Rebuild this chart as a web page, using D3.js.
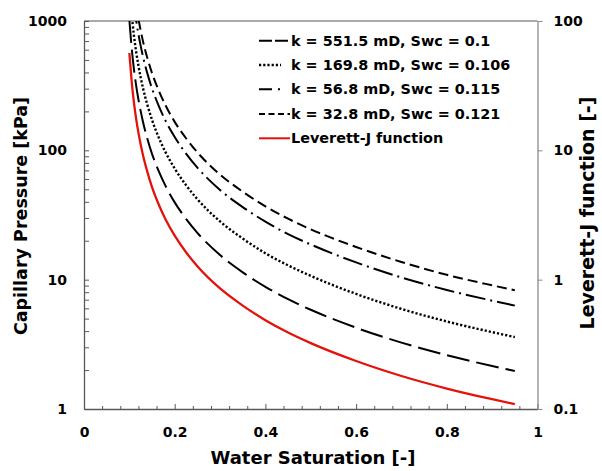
<!DOCTYPE html>
<html>
<head>
<meta charset="utf-8">
<script src="https://cdn.jsdelivr.net/npm/d3@7"></script>
<style>
    body { margin: 0; background: #fff; }
    svg { display: block; }
    text { font-family: "DejaVu Sans", sans-serif; fill: #000; }
</style>
</head>
<body>
<script>
// water saturation points
var swVals = [0.1, 0.105, 0.11, 0.115, 0.12, 0.125, 0.13, 0.14, 0.15, 0.165, 0.18, 0.2,
              0.225, 0.25, 0.3, 0.35, 0.4, 0.45, 0.5, 0.6, 0.7, 0.8, 0.9, 0.95];

// capillary pressure [kPa], null = curve not started yet
var pc551 = [1024, 624, 427, 317, 248, 201, 166.5, 122, 94, 68.8, 52.9, 39.6,
             29.5, 23.0, 15.5, 11.4, 8.8, 7.06, 5.85, 4.25, 3.26, 2.61, 2.15, 1.97];
var pc169 = [null, 1139, 779, 578, 452, 366, 304, 223, 172, 125, 96.4, 72.3,
             53.8, 41.9, 28.2, 20.8, 16.0, 12.9, 10.7, 7.76, 5.94, 4.75, 3.93, 3.6];
var pc56 = [null, null, 1364, 1012, 792, 642, 532, 390, 301, 220, 169, 127,
            94.2, 73.4, 49.4, 36.4, 28.1, 22.5, 18.7, 13.6, 10.4, 8.32, 6.88, 6.3];
var pc32 = [null, null, null, 1330, 1041, 844, 699, 513, 395, 289, 222, 166,
            124, 96.5, 65, 47.9, 36.9, 29.6, 24.5, 17.9, 13.7, 10.9, 9.04, 8.28];

// Leverett-J function [-] (right axis)
var jVals = [56.6, 34.5, 23.6, 17.5, 13.7, 11.1, 9.2, 6.75, 5.2, 3.8, 2.92, 2.19,
             1.63, 1.27, 0.855, 0.63, 0.486, 0.39, 0.323, 0.235, 0.18, 0.144, 0.119, 0.109];

var seriesNames = ["k = 551.5 mD, Swc = 0.1", "k = 169.8 mD, Swc = 0.106",
                   "k = 56.8 mD, Swc = 0.115", "k = 32.8 mD, Swc = 0.121", "Leverett-J function"];

var xTicks = [0, 0.2, 0.4, 0.6, 0.8, 1];
var yTicks = [1, 10, 100, 1000];
var yRTicks = [0.1, 1, 10, 100];

var w = 602, h = 471;
var pLeft = 84, pRight = 537.5, pTop = 21, pBottom = 409;

var svg = d3.select("body")
            .append("svg")
            .attr("width", w)
            .attr("height", h);

var xScale = d3.scaleLinear()
                .domain([0, 1])
                .range([pLeft, pRight]);

var yScale = d3.scaleLog()
                .domain([1, 1000])
                .range([pBottom, pTop]);

var yRScale = d3.scaleLog()
                .domain([0.1, 100])
                .range([pBottom, pTop]);

svg.append("clipPath")
    .attr("id", "plot")
    .append("rect")
    .attr("x", pLeft)
    .attr("y", pTop)
    .attr("width", pRight - pLeft)
    .attr("height", pBottom - pTop);

// frame top
svg.append("line")
    .attr("x1", pLeft).attr("x2", pRight)
    .attr("y1", pTop).attr("y2", pTop)
    .attr("stroke", "#8c8c8c")
    .attr("stroke-width", 1.3);

// minor x ticks every 0.04
var xMinor = d3.range(0, 26).map(i => i * 0.04).filter(v => Math.abs(v / 0.2 - Math.round(v / 0.2)) > 1e-6);
svg.append("g")
    .attr("transform", "translate(0," + pBottom + ")")
    .call(d3.axisBottom(xScale).tickValues(xMinor).tickSize(-3).tickFormat(""))
    .call(g => g.select(".domain").remove())
    .selectAll("line").attr("stroke", "#595959");

var xAxis = d3.axisBottom()
            .scale(xScale)
            .tickValues(xTicks)
            .tickSize(-5)
            .tickSizeOuter(0)
            .tickPadding(18)
            .tickFormat(d => d);

var xg = svg.append("g")
    .attr("transform", "translate(0," + pBottom + ")")
    .call(xAxis);
xg.select(".domain").attr("stroke", "#595959").attr("stroke-width", 1.3);
xg.selectAll("line").attr("stroke", "#595959");
xg.selectAll("text")
    .style("font-size", "14px")
    .style("font-weight", "bold")
    .style("font-family", "DejaVu Sans");

// left axis with minor ticks
var yMinor = [];
[1, 10, 100].forEach(function(d) {
    for(var i = 2; i <= 9; i++) yMinor.push(d * i);
});

svg.append("g")
    .attr("transform", "translate(" + pLeft + ",0)")
    .call(d3.axisLeft(yScale).tickValues(yMinor).tickSize(-5).tickFormat(""))
    .call(g => g.select(".domain").remove())
    .selectAll("line").attr("stroke", "#595959");

var yAxis = d3.axisLeft()
            .scale(yScale)
            .tickValues(yTicks)
            .tickSize(-5)
            .tickSizeOuter(0)
            .tickPadding(17)
            .tickFormat(d3.format("d"));

var yg = svg.append("g")
    .attr("transform", "translate(" + pLeft + ",0)")
    .call(yAxis);
yg.select(".domain").attr("stroke", "#595959").attr("stroke-width", 1.3);
yg.selectAll("line").attr("stroke", "#595959");
yg.selectAll("text")
    .style("font-size", "14px")
    .style("font-weight", "bold")
    .style("font-family", "DejaVu Sans");

var yRAxis = d3.axisRight()
            .scale(yRScale)
            .tickValues(yRTicks)
            .tickSize(5)
            .tickSizeOuter(0)
            .tickPadding(11)
            .tickFormat(d => d < 1 ? "0.1" : d3.format("d")(d));

var yrg = svg.append("g")
    .attr("transform", "translate(" + pRight + ",0)")
    .call(yRAxis);
yrg.select(".domain").attr("stroke", "#8c8c8c").attr("stroke-width", 1.3);
yrg.selectAll("line").attr("stroke", "#8c8c8c");
yrg.selectAll("text")
    .style("font-size", "14px")
    .style("font-weight", "bold")
    .style("font-family", "DejaVu Sans");

// curves
var curveGroup = svg.append("g").attr("clip-path", "url(#plot)");

var styles = [
    {vals: pc551, dash: "23,7", legendDash: "13,3", len: 31, width: 2},
    {vals: pc169, dash: "2.2,2", legendDash: "2.2,2", len: 22, width: 2.4},
    {vals: pc56, dash: "20,5,2,5", legendDash: "13,6,2,20", len: 31, width: 2},
    {vals: pc32, dash: "10,5", legendDash: "6,3.5", len: 31, width: 2}
];

var line = d3.line()
            .defined(d => d[1] != null)
            .x(d => xScale(d[0]))
            .y(d => yScale(d[1]))
            .curve(d3.curveMonotoneX);

styles.forEach(function(s) {
    curveGroup.append("path")
        .datum(swVals.map((sw, i) => [sw, s.vals[i]]))
        .attr("d", line)
        .attr("fill", "none")
        .attr("stroke", "#000")
        .attr("stroke-width", s.width)
        .attr("stroke-dasharray", s.dash);
});

var jLine = d3.line()
            .x(d => xScale(d[0]))
            .y(d => yRScale(d[1]))
            .curve(d3.curveMonotoneX);

curveGroup.append("path")
    .datum(swVals.map((sw, i) => [sw, jVals[i]]))
    .attr("d", jLine)
    .attr("fill", "none")
    .attr("stroke", "#e3120b")
    .attr("stroke-width", 2.3);

// legend
var legend = svg.append("g");
var rowY = [40.7, 65, 89.3, 114, 138.3];

seriesNames.forEach(function(name, i) {
    var s = styles[i];
    legend.append("line")
        .attr("x1", 259)
        .attr("x2", 259 + (s ? s.len : 31))
        .attr("y1", rowY[i]).attr("y2", rowY[i])
        .attr("stroke", s ? "#000" : "#e3120b")
        .attr("stroke-width", s ? s.width : 2)
        .attr("stroke-dasharray", s ? s.legendDash : null);

    legend.append("text")
        .attr("x", 291)
        .attr("y", rowY[i] + 5)
        .style("font-size", "14.4px")
        .style("font-weight", "bold")
        .text(name);
});

// axis titles
svg.append("text")
    .attr("x", 313)
    .attr("y", 464)
    .attr("text-anchor", "middle")
    .style("font-size", "18px")
    .style("font-weight", "bold")
    .text("Water Saturation [-]");

svg.append("text")
    .attr("transform", "translate(27,216) rotate(-90)")
    .attr("text-anchor", "middle")
    .style("font-size", "17.5px")
    .style("font-weight", "bold")
    .text("Capillary Pressure [kPa]");

svg.append("text")
    .attr("transform", "translate(594,213) rotate(-90)")
    .attr("text-anchor", "middle")
    .style("font-size", "19px")
    .style("font-weight", "bold")
    .text("Leverett-J function [-]");
</script>
</body>
</html>
